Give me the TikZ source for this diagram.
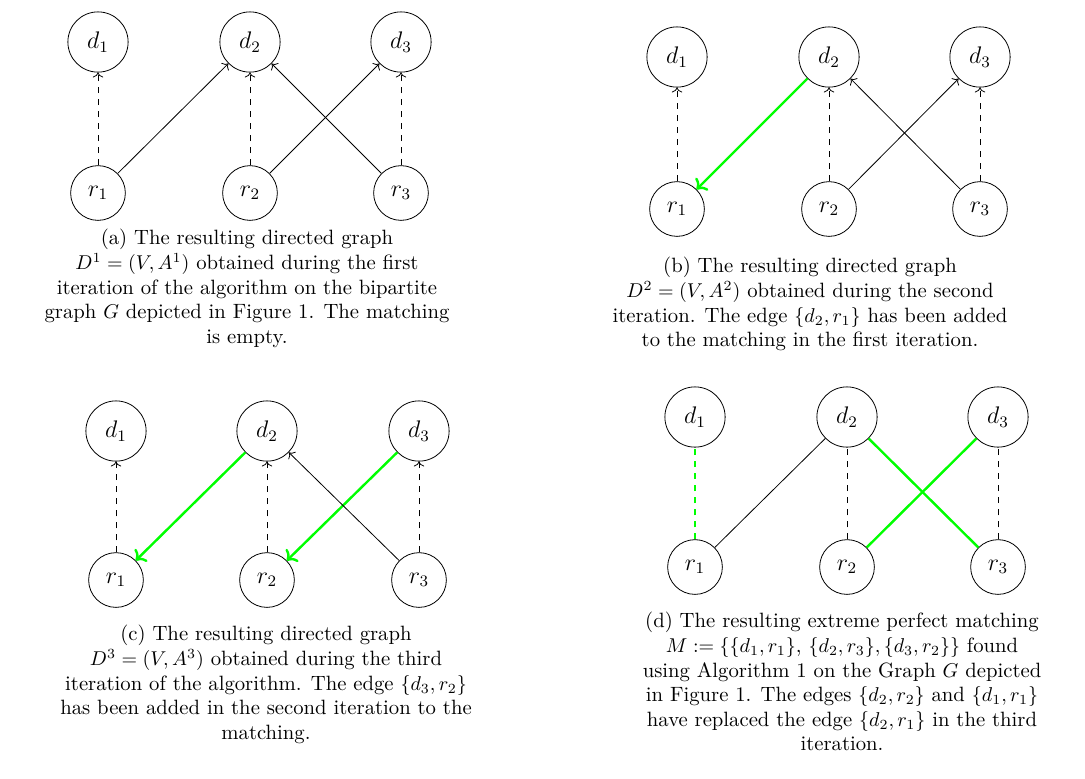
\documentclass[tikz,border=0pt]{standalone}
\usepackage{amsmath, amssymb}
\usepackage{xcolor}
\usepackage{tikz}
\usetikzlibrary{arrows.meta, positioning}

\tikzset{
  vtx/.style={draw, circle, inner sep=5.4pt, font=\large},
  matched/.style={draw=green, very thick},
  subcap/.style={align=center, inner sep=0pt, anchor=north,
    font=\fontsize{10.35pt}{12.3pt}\selectfont},
}

\begin{document}
\begin{tikzpicture}[x=0.5pt, y=-0.5pt]
  \useasboundingbox (0,0) rectangle (1085,778);

  % (a) first iteration
  \node[vtx] (ad1) at (98,42) {$d_1$};
  \node[vtx] (ad2) at (250,42) {$d_2$};
  \node[vtx] (ad3) at (401,42) {$d_3$};
  \node[vtx] (ar1) at (98,193) {$r_1$};
  \node[vtx] (ar2) at (250,193) {$r_2$};
  \node[vtx] (ar3) at (401,193) {$r_3$};
  \draw[->, dashed] (ar1) -- (ad1);
  \draw[->, dashed] (ar2) -- (ad2);
  \draw[->, dashed] (ar3) -- (ad3);
  \draw[->] (ar1) -- (ad2);
  \draw[->] (ar2) -- (ad3);
  \draw[->] (ar3) -- (ad2);
  \node[subcap] (acap) at (247,229) {(a) The resulting directed graph\\
    $D^1 = (V, A^1)$ obtained during the first\\
    iteration of the algorithm on the bipartite\\
    graph $G$ depicted in Figure 1. The matching\\
    is empty.};

  % (b) second iteration
  \node[vtx] (bd1) at (677,57) {$d_1$};
  \node[vtx] (bd2) at (829,57) {$d_2$};
  \node[vtx] (bd3) at (980,57) {$d_3$};
  \node[vtx] (br1) at (677,209) {$r_1$};
  \node[vtx] (br2) at (829,209) {$r_2$};
  \node[vtx] (br3) at (980,209) {$r_3$};
  \draw[->, dashed] (br1) -- (bd1);
  \draw[->, dashed] (br2) -- (bd2);
  \draw[->, dashed] (br3) -- (bd3);
  \draw[->, matched] (bd2) -- (br1);
  \draw[->] (br2) -- (bd3);
  \draw[->] (br3) -- (bd2);
  \node[subcap] (bcap) at (810,257) {(b) The resulting directed graph\\
    $D^2 = (V, A^2)$ obtained during the second\\
    iteration. The edge $\{d_2, r_1\}$ has been added\\
    to the matching in the first iteration.};

  % (c) third iteration
  \node[vtx] (cd1) at (116,431) {$d_1$};
  \node[vtx] (cd2) at (267,431) {$d_2$};
  \node[vtx] (cd3) at (419,431) {$d_3$};
  \node[vtx] (cr1) at (116,580) {$r_1$};
  \node[vtx] (cr2) at (267,580) {$r_2$};
  \node[vtx] (cr3) at (419,580) {$r_3$};
  \draw[->, dashed] (cr1) -- (cd1);
  \draw[->, dashed] (cr2) -- (cd2);
  \draw[->, dashed] (cr3) -- (cd3);
  \draw[->, matched] (cd2) -- (cr1);
  \draw[->, matched] (cd3) -- (cr2);
  \draw[->] (cr3) -- (cd2);
  \node[subcap] (ccap) at (266,625) {(c) The resulting directed graph\\
    $D^3 = (V, A^3)$ obtained during the third\\
    iteration of the algorithm. The edge $\{d_3, r_2\}$\\
    has been added in the second iteration to the\\
    matching.};

  % (d) resulting matching
  \node[vtx] (dd1) at (695,417) {$d_1$};
  \node[vtx] (dd2) at (847,417) {$d_2$};
  \node[vtx] (dd3) at (998,417) {$d_3$};
  \node[vtx] (dr1) at (695,567) {$r_1$};
  \node[vtx] (dr2) at (847,567) {$r_2$};
  \node[vtx] (dr3) at (998,567) {$r_3$};
  \draw[matched, dashed] (dr1) -- (dd1);
  \draw[dashed] (dr2) -- (dd2);
  \draw[dashed] (dr3) -- (dd3);
  \draw (dr1) -- (dd2);
  \draw[matched] (dd2) -- (dr3);
  \draw[matched] (dd3) -- (dr2);
  \node[subcap] (dcap) at (842,612) {(d) The resulting extreme perfect matching\\
    $M := \{\{d_1, r_1\}$, $\{d_2, r_3\}, \{d_3, r_2\}\}$ found\\
    using Algorithm 1 on the Graph $G$ depicted\\
    in Figure 1. The edges $\{d_2, r_2\}$ and $\{d_1, r_1\}$\\
    have replaced the edge $\{d_2, r_1\}$ in the third\\
    iteration.};
\end{tikzpicture}
\end{document}
